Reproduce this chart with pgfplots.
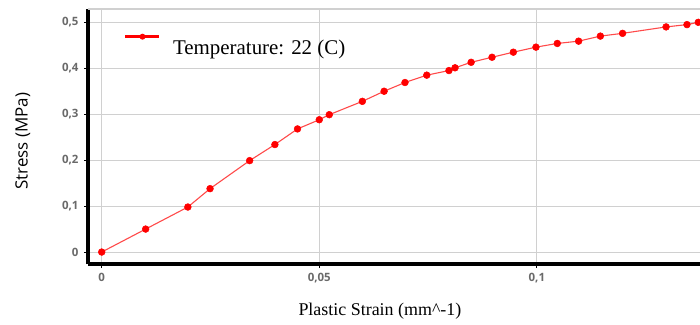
\documentclass[border=0pt]{standalone}
\usepackage{pgfplots}
\pgfplotsset{compat=1.18}
\usepackage{fontspec}
\setmainfont{Liberation Serif}
\newfontfamily\osans{Open Sans}
\definecolor{ptred}{HTML}{FF0000}
\definecolor{lnred}{HTML}{FF4A4A}
\definecolor{gridgray}{HTML}{D0D0D0}
\definecolor{tickgray}{HTML}{6A6A6A}
\begin{document}
\begin{tikzpicture}[x=1bp,y=1bp]
\begin{axis}[
  at={(88bp,60bp)}, anchor=south west,
  scale only axis, width=612bp, height=255bp,
  xmin=-0.00315, xmax=0.1375, ymin=-0.026, ymax=0.529,
  axis x line*=bottom, axis y line*=left,
  axis line style={-, line width=3.5bp, black},
  xtick={0,0.05,0.1}, ytick={0,0.1,0.2,0.3,0.4,0.5},
  xticklabels={0,{0,05},{0,1}},
  yticklabels={0,{0,1},{0,2},{0,3},{0,4},{0,5}},
  grid=major, major grid style={gridgray, line width=1.1bp},
  tick style={black, line width=0.8bp}, major tick length=4bp, tick align=outside,
  ticklabel style={font=\osans\bfseries\fontsize{11.5}{13}\selectfont, text=tickgray},
  xticklabel style={yshift=-2bp}, yticklabel style={xshift=-2bp},
  xlabel={Plastic Strain (mm\textasciicircum-1)},
  xlabel style={font=\rmfamily\fontsize{18}{20}\selectfont, at={(axis description cs:0.477,-0.184)}, anchor=center},
  ylabel={Stress (MPa)},
  ylabel style={font=\osans\fontsize{17}{20}\selectfont, at={(axis description cs:-0.1065,0.482)}, anchor=center, rotate=0},
  legend style={at={(axis description cs:0.0588,0.859)}, anchor=west, draw=none, fill=none,
    font=\rmfamily\fontsize{21}{24}\selectfont, inner sep=0pt, outer sep=0pt,
    nodes={inner sep=0pt}},
  legend cell align=left,
  legend image code/.code={%
    \draw[ptred, line width=3bp] (0bp,11.5bp) -- (34bp,11.5bp);
    \fill[ptred] (17bp,11.5bp) circle (2.4bp);
    \path (47bp,11.5bp);
  },
]
\addplot[lnred, line width=1.1bp, mark=*, mark size=3.4bp, mark options={fill=ptred, draw=ptred, line width=0.5bp}] coordinates {
(0,0)
(0.0101,0.05)
(0.0198,0.098)
(0.0249,0.138)
(0.034,0.199)
(0.0398,0.234)
(0.045,0.268)
(0.05,0.288)
(0.0523,0.299)
(0.0599,0.328)
(0.0649,0.350)
(0.0697,0.369)
(0.0747,0.385)
(0.0798,0.395)
(0.0812,0.401)
(0.0849,0.413)
(0.0897,0.424)
(0.0946,0.435)
(0.0998,0.446)
(0.1047,0.454)
(0.1096,0.459)
(0.1146,0.470)
(0.1197,0.476)
(0.1297,0.490)
(0.1345,0.495)
(0.1371,0.500)
};
\addlegendentry{Temperature: 22 (C)}
\draw[gridgray, line width=1.5bp] (rel axis cs:0,1) -- (rel axis cs:1,1);
\end{axis}
\pgfresetboundingbox
\useasboundingbox (0,0) rectangle (700,324);
\end{tikzpicture}
\end{document}
